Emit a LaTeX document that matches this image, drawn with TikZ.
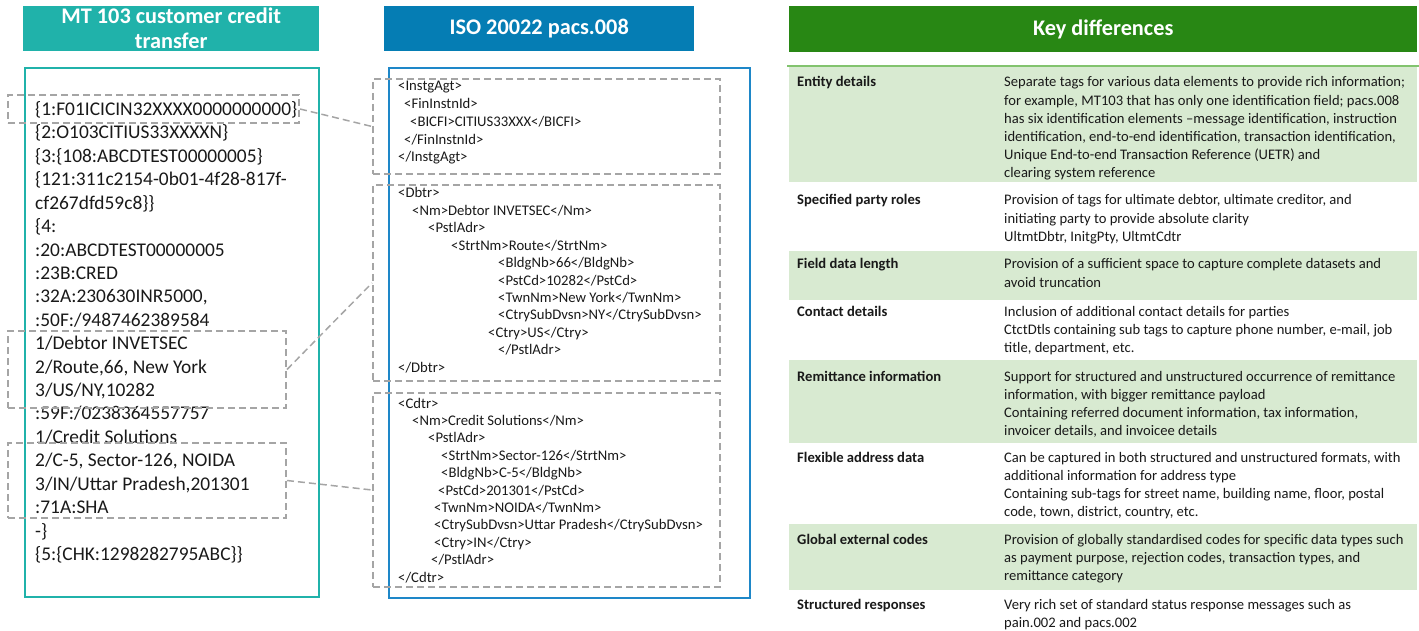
\documentclass[tikz,border=0pt]{standalone}
\usepackage{fontspec}
\setmainfont{Carlito}

\definecolor{mtteal}{RGB}{32,178,170}
\definecolor{isoblue}{RGB}{5,125,180}
\definecolor{isoframe}{RGB}{30,135,200}
\definecolor{keygreen}{RGB}{40,135,20}
\definecolor{rowgreen}{RGB}{216,234,209}
\definecolor{rowline}{RGB}{130,195,110}
\definecolor{dashgrey}{RGB}{165,165,165}
\definecolor{txt}{RGB}{25,25,25}

% lines of text placed one by one on their baselines
\newcommand\textlines[6]{% style, name prefix, x, first baseline, step, lines
  \foreach \ln [count=\k from 0] in {#6}
    \node[#1] (#2\k) at (#3,#4+#5*\k) {\ln};
}
% indented XML lines: items are indent/text
\newcommand\xmllines[5]{% name prefix, x, first baseline, step, items
  \foreach \dx/\ln [count=\k from 0] in {#5}
    \node[xmlline] (#1\k) at (#2+\dx,#3+#4*\k) {\ln};
}
% one row of the comparison table
\newcommand\keyrow[7]{% name, top, height, fill, label, first baseline, lines
  \node[rowbox, fill=#4, minimum height=#3] (#1) at (787,#2) {};
  \node[lbl] (#1lbl) at (797,#6) {#5};
  \textlines{dsc}{#1d}{1004}{#6}{18.2}{#7}
}

\begin{document}
\begin{tikzpicture}[x=1pt,y=-1pt,
  hdr/.style={draw=none, text=white, inner sep=0, align=center,
    anchor=north west, font=\bfseries\fontsize{22.3}{25}\selectfont},
  frame/.style={line width=2pt, inner sep=0, anchor=north west},
  dbox/.style={draw=dashgrey, line width=2pt, dash pattern=on 7pt off 4pt,
    inner sep=0, anchor=north west},
  link/.style={draw=dashgrey, line width=1.5pt, dash pattern=on 7pt off 4pt},
  mtline/.style={anchor=base west, inner sep=0, text=txt,
    font=\fontsize{19.4}{23}\selectfont},
  xmlline/.style={anchor=base west, inner sep=0, text=txt,
    font=\fontsize{14.7}{17}\selectfont},
  rowbox/.style={draw=white, line width=1.5pt, inner sep=0,
    minimum width=630, anchor=north west},
  lbl/.style={anchor=base west, inner sep=0, text=txt,
    font=\bfseries\fontsize{14.6}{17}\selectfont},
  dsc/.style={anchor=base west, inner sep=0, text=txt,
    font=\fontsize{14.6}{17}\selectfont}
]
\useasboundingbox (0,0) rectangle (1419,631);

% ---------- MT 103 ----------
\node[hdr, fill=mtteal, minimum width=296, minimum height=45] (mthead) at (23,6)
  {MT 103 customer credit\\transfer};
\node[frame, draw=mtteal, minimum width=294, minimum height=529] (mtframe) at (24,67) {};
\textlines{mtline}{mt}{35}{115.5}{23.42}{
  {\{1:F01ICICIN32XXXX0000000000\}},
  {\{2:O103CITIUS33XXXXN\}},
  {\{3:\{108:ABCDTEST00000005\}},
  {\{121:311c2154-0b01-4f28-817f-},
  {cf267dfd59c8\}\}},
  {\{4:},
  {:20:ABCDTEST00000005},
  {:23B:CRED},
  {:32A:230630INR5000,},
  {:50F:/9487462389584},
  {1/Debtor INVETSEC},
  {2/Route,66, New York},
  {3/US/NY,10282},
  {:59F:/0238364557757},
  {1/Credit Solutions},
  {2/C-5, Sector-126, NOIDA},
  {3/IN/Uttar Pradesh,201301},
  {:71A:SHA},
  {-\}},
  {\{5:\{CHK:1298282795ABC\}\}}}

% ---------- ISO 20022 ----------
\node[hdr, fill=isoblue, minimum width=310, minimum height=45] (isohead) at (384,6)
  {ISO 20022 pacs.008};
\node[frame, draw=isoframe, minimum width=361, minimum height=530] (isoframe) at (388,67) {};

\xmllines{ia}{398}{91}{17.75}{
  0/{<InstgAgt>},
  6/{<FinInstnId>},
  12/{<BICFI>CITIUS33XXX</BICFI>},
  6/{</FinInstnId>},
  0/{</InstgAgt>}}
\xmllines{db}{398}{198}{17.4}{
  0/{<Dbtr>},
  14/{<Nm>Debtor INVETSEC</Nm>},
  30/{<PstlAdr>},
  53/{<StrtNm>Route</StrtNm>},
  100/{<BldgNb>66</BldgNb>},
  100/{<PstCd>10282</PstCd>},
  100/{<TwnNm>New York</TwnNm>},
  100/{<CtrySubDvsn>NY</CtrySubDvsn>},
  90/{<Ctry>US</Ctry>},
  100/{</PstlAdr>},
  0/{</Dbtr>}}
\xmllines{cd}{398}{408}{17.4}{
  0/{<Cdtr>},
  14/{<Nm>Credit Solutions</Nm>},
  30/{<PstlAdr>},
  43/{<StrtNm>Sector-126</StrtNm>},
  43/{<BldgNb>C-5</BldgNb>},
  40/{<PstCd>201301</PstCd>},
  36/{<TwnNm>NOIDA</TwnNm>},
  36/{<CtrySubDvsn>Uttar Pradesh</CtrySubDvsn>},
  36/{<Ctry>IN</Ctry>},
  33/{</PstlAdr>},
  0/{</Cdtr>}}

% dashed groups and the links between them
\node[dbox, minimum width=291, minimum height=28] (mtA) at (7,94) {};
\node[dbox, minimum width=278, minimum height=77] (mtB) at (7,330) {};
\node[dbox, minimum width=278, minimum height=75] (mtC) at (7,442) {};
\node[dbox, minimum width=347, minimum height=95] (isoA) at (372,78) {};
\node[dbox, minimum width=347, minimum height=196] (isoB) at (372,184) {};
\node[dbox, minimum width=347, minimum height=194] (isoC) at (372,392) {};
\draw[link] (mtA.east) -- (isoA.west);
\draw[link] (mtB.east) -- (isoB.west);
\draw[link] (mtC.east) -- (isoC.west);

% ---------- Key differences ----------
\node[hdr, fill=keygreen, minimum width=628, minimum height=46] (keyhead) at (789,6)
  {Key differences};

\keyrow{ent}{66}{116}{rowgreen}{Entity details}{87}{
  {Separate tags for various data elements to provide rich information;},
  {for example, MT103 that has only one identification field; pacs.008},
  {has six identification elements –message identification, instruction},
  {identification, end-to-end identification, transaction identification,},
  {Unique End-to-end Transaction Reference (UETR) and},
  {clearing system reference}}
\keyrow{spr}{182}{68}{white}{Specified party roles}{205}{
  {Provision of tags for ultimate debtor, ultimate creditor, and},
  {initiating party to provide absolute clarity},
  {UltmtDbtr, InitgPty, UltmtCdtr}}
\keyrow{fdl}{250}{50}{rowgreen}{Field data length}{269}{
  {Provision of a sufficient space to capture complete datasets and},
  {avoid truncation}}
\keyrow{cdt}{300}{58}{white}{Contact details}{316}{
  {Inclusion of additional contact details for parties},
  {CtctDtls containing sub tags to capture phone number, e-mail, job},
  {title, department, etc.}}
\keyrow{rem}{358}{85}{rowgreen}{Remittance information}{381}{
  {Support for structured and unstructured occurrence of remittance},
  {information, with bigger remittance payload},
  {Containing referred document information, tax information,},
  {invoicer details, and invoicee details}}
\keyrow{fad}{443}{79}{white}{Flexible address data}{462}{
  {Can be captured in both structured and unstructured formats, with},
  {additional information for address type},
  {Containing sub-tags for street name, building name, floor, postal},
  {code, town, district, country, etc.}}
\keyrow{gec}{522}{68}{rowgreen}{Global external codes}{544}{
  {Provision of globally standardised codes for specific data types such},
  {as payment purpose, rejection codes, transaction types, and},
  {remittance category}}
\keyrow{srs}{590}{41}{white}{Structured responses}{609}{
  {Very rich set of standard status response messages such as},
  {pain.002 and pacs.002}}
\draw[line width=1.5pt, rowline] (ent.north west) -- (ent.north east);
\end{tikzpicture}
\end{document}
